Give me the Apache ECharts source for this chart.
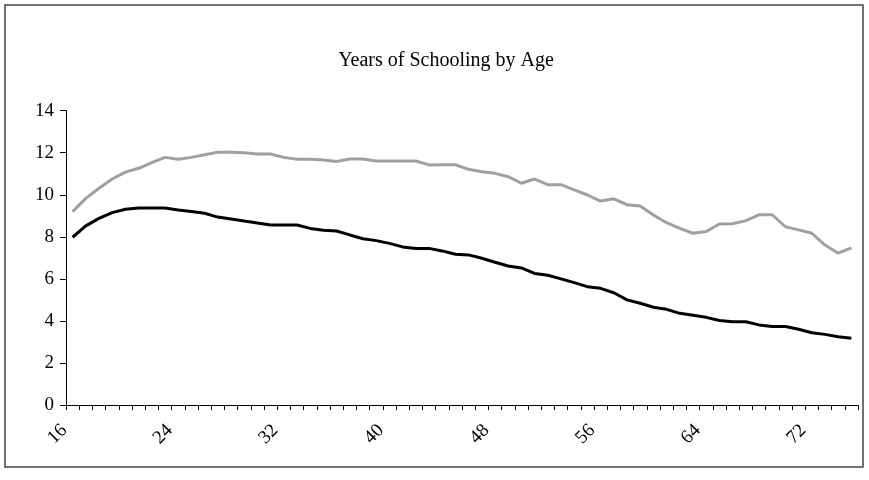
<!DOCTYPE html>
<html>
<head>
<meta charset="utf-8">
<script src="https://cdn.jsdelivr.net/npm/echarts@6/dist/echarts.min.js"></script>
<style>
html,body{margin:0;padding:0;background:#fff;}
#chart{width:869px;height:480px;}
</style>
</head>
<body>
<div id="chart"></div>
<script>
var titleText = "Years of Schooling by Age";
var ages = [];
for (var a = 16; a <= 75; a++) ages.push(String(a));
var yTicks = [0, 2, 4, 6, 8, 10, 12, 14];

var upperSeries = [
  9.20, 9.83, 10.31, 10.75, 11.08, 11.26, 11.53, 11.78, 11.69, 11.78,
  11.90, 12.02, 12.02, 12.00, 11.94, 11.94, 11.78, 11.69, 11.69, 11.66,
  11.58, 11.70, 11.70, 11.61, 11.61, 11.61, 11.61, 11.42, 11.43, 11.43,
  11.21, 11.10, 11.02, 10.86, 10.55, 10.75, 10.48, 10.48, 10.23, 9.99,
  9.70, 9.81, 9.53, 9.47, 9.04, 8.67, 8.40, 8.17, 8.25, 8.61,
  8.62, 8.77, 9.05, 9.05, 8.48, 8.33, 8.17, 7.61, 7.22, 7.47
];
var lowerSeries = [
  7.98, 8.52, 8.88, 9.15, 9.31, 9.37, 9.37, 9.37, 9.28, 9.21,
  9.12, 8.94, 8.85, 8.75, 8.66, 8.56, 8.56, 8.56, 8.40, 8.31,
  8.28, 8.09, 7.91, 7.82, 7.69, 7.52, 7.45, 7.45, 7.33, 7.17,
  7.14, 6.98, 6.79, 6.61, 6.52, 6.26, 6.17, 6.00, 5.82, 5.63,
  5.55, 5.34, 5.00, 4.84, 4.65, 4.55, 4.36, 4.27, 4.17, 4.02,
  3.96, 3.96, 3.81, 3.73, 3.73, 3.60, 3.44, 3.36, 3.25, 3.17
];

var FONT = "Liberation Serif";
var chart = echarts.init(document.getElementById('chart'), null, {renderer: 'canvas'});
chart.setOption({
  animation: false,
  backgroundColor: '#ffffff',
  title: {
    text: titleText,
    left: 441, top: 46, textAlign: 'center',
    textStyle: {fontFamily: FONT, fontSize: 20, fontWeight: 'normal', color: '#000'}
  },
  graphic: [{
    type: 'rect', silent: true,
    shape: {x: 5, y: 5, width: 858, height: 462},
    style: {fill: 'none', stroke: '#444', lineWidth: 1.5}
  }],
  grid: {left: 66, right: 11, top: 110.7, bottom: 75, containLabel: false},
  xAxis: {
    type: 'category',
    data: ages,
    boundaryGap: true,
    axisLine: {lineStyle: {color: '#000', width: 1}},
    axisTick: {show: true, interval: 0, length: 5, inside: false, lineStyle: {color: '#000'}},
    axisLabel: {
      interval: 7, rotate: 45, margin: 14, padding: [0, 12, 0, 0],
      fontFamily: FONT, fontSize: 19, color: '#000'
    },
    splitLine: {show: false}
  },
  yAxis: {
    type: 'value',
    min: yTicks[0], max: yTicks[yTicks.length - 1], interval: 2,
    axisLine: {show: true, lineStyle: {color: '#000', width: 1}},
    axisTick: {show: true, length: 6, lineStyle: {color: '#000'}},
    axisLabel: {margin: 12, fontFamily: FONT, fontSize: 19, color: '#000'},
    splitLine: {show: false}
  },
  series: [
    {type: 'line', data: upperSeries, symbol: 'none', lineStyle: {color: '#a0a0a0', width: 3}, itemStyle: {color: '#a0a0a0'}},
    {type: 'line', data: lowerSeries, symbol: 'none', lineStyle: {color: '#000000', width: 3}, itemStyle: {color: '#000000'}}
  ]
});
</script>
</body>
</html>
